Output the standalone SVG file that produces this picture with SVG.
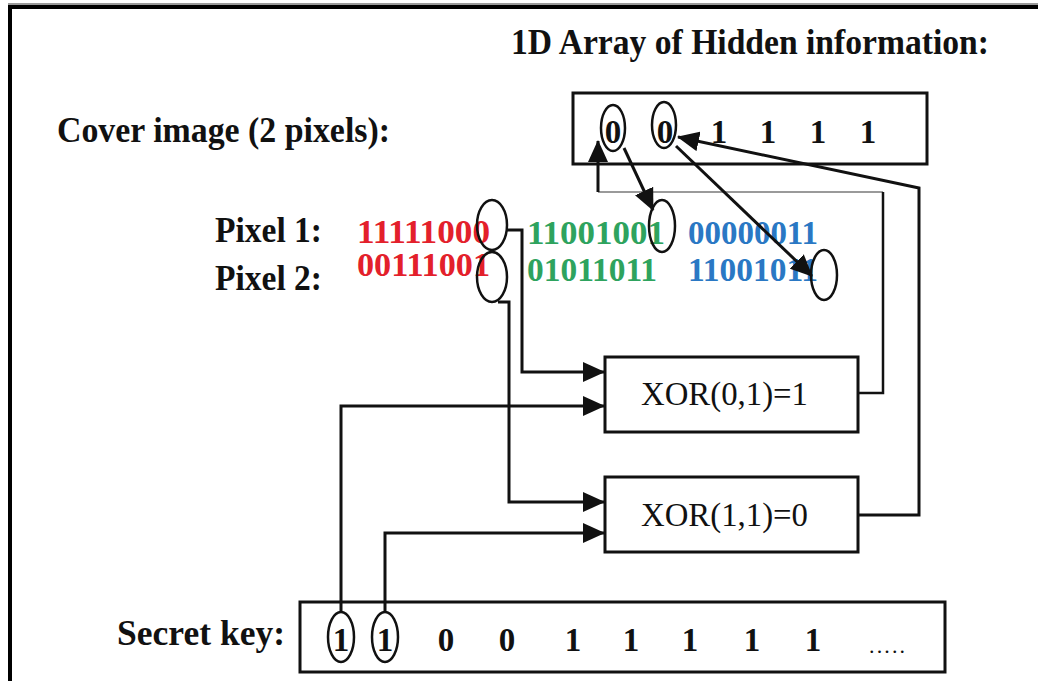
<svg xmlns="http://www.w3.org/2000/svg" width="1038" height="681" viewBox="0 0 1038 681">
  <style>
    .lbl { font-family: "Liberation Serif", "Times New Roman", serif; font-weight: bold; font-size: 36px; fill: #111; }
    .bit { font-family: "Liberation Serif", "Times New Roman", serif; font-weight: bold; font-size: 33px; fill: #111; text-anchor: middle; }
    .row { font-family: "Liberation Serif", "Times New Roman", serif; font-weight: bold; font-size: 33px; }
    .red { fill: #e3202b; }
    .green { fill: #2ea35e; }
    .blue { fill: #2a78c4; }
    .op { font-family: "Liberation Serif", "Times New Roman", serif; font-size: 34px; fill: #111; }
    .box { fill: #fff; stroke: #111; stroke-width: 3; }
    .ring { fill: none; stroke: #111; stroke-width: 2.5; }
    .wire { fill: none; stroke: #111; stroke-width: 3; }
    .thin { fill: none; stroke: #9a9a9a; stroke-width: 2; }
  </style>
  <defs>
    <marker id="arrow" viewBox="0 0 22 20" refX="21" refY="10" markerWidth="22" markerHeight="20" markerUnits="userSpaceOnUse" orient="auto">
      <path d="M0,0 L22,10 L0,20 z" fill="#111"/>
    </marker>
  </defs>

  <rect width="1038" height="681" fill="#fff"/>
  <!-- frame -->
  <path d="M1038,4 H8" stroke="#9a9a9a" stroke-width="2" fill="none"/>
  <path d="M10,681 V7 H1038" stroke="#000" stroke-width="4" fill="none"/>

  <!-- labels -->
  <g id="title">
    <text class="lbl" x="511" y="54" textLength="478" lengthAdjust="spacingAndGlyphs">1D Array of Hidden information:</text>
  </g>
  <g id="cover-label">
    <text class="lbl" x="57" y="142" textLength="333" lengthAdjust="spacingAndGlyphs">Cover image (2 pixels):</text>
  </g>
  <g id="pixel-labels">
    <text class="lbl" x="215" y="242" textLength="107" lengthAdjust="spacingAndGlyphs">Pixel 1:</text>
    <text class="lbl" x="215" y="290" textLength="107" lengthAdjust="spacingAndGlyphs">Pixel 2:</text>
  </g>
  <g id="key-label">
    <text class="lbl" x="117" y="645" textLength="168" lengthAdjust="spacingAndGlyphs">Secret key:</text>
  </g>

  <!-- hidden information array -->
  <g id="hidden-array">
    <rect class="box" x="573" y="93" width="354" height="71"/>
    <text class="bit" x="613" y="143">0</text>
    <text class="bit" x="665" y="143">0</text>
    <text class="bit" x="719" y="143">1</text>
    <text class="bit" x="768" y="143">1</text>
    <text class="bit" x="818" y="143">1</text>
    <text class="bit" x="868" y="143">1</text>
    <ellipse class="ring" cx="613" cy="128" rx="12" ry="23"/>
    <ellipse class="ring" cx="664" cy="125" rx="12" ry="23"/>
  </g>

  <!-- pixel bytes -->
  <g id="pixel1">
    <text class="row red" x="357" y="243" textLength="133" lengthAdjust="spacingAndGlyphs">11111000</text>
    <text class="row green" x="527" y="244" textLength="138" lengthAdjust="spacingAndGlyphs">11001001</text>
    <text class="row blue" x="688" y="244" textLength="130" lengthAdjust="spacingAndGlyphs">00000011</text>
    <ellipse class="ring" cx="492" cy="225" rx="15" ry="25"/>
    <ellipse class="ring" cx="662" cy="226" rx="13" ry="26"/>
  </g>
  <g id="pixel2">
    <text class="row red" x="357" y="276" textLength="133" lengthAdjust="spacingAndGlyphs">00111001</text>
    <text class="row green" x="527" y="281" textLength="130" lengthAdjust="spacingAndGlyphs">01011011</text>
    <text class="row blue" x="688" y="281" textLength="130" lengthAdjust="spacingAndGlyphs">11001011</text>
    <ellipse class="ring" cx="492" cy="277" rx="15" ry="25"/>
    <ellipse class="ring" cx="824" cy="275" rx="13" ry="25"/>
  </g>

  <!-- XOR operations -->
  <g id="xor1">
    <rect class="box" x="605" y="357" width="253" height="75"/>
    <text class="op" x="641" y="405" textLength="167" lengthAdjust="spacingAndGlyphs">XOR(0,1)=1</text>
  </g>
  <g id="xor2">
    <rect class="box" x="605" y="477" width="253" height="75"/>
    <text class="op" x="641" y="526" textLength="167" lengthAdjust="spacingAndGlyphs">XOR(1,1)=0</text>
  </g>

  <!-- secret key -->
  <g id="secret-key">
    <rect class="box" x="300" y="602" width="645" height="70"/>
    <text class="bit" x="341" y="651">1</text>
    <text class="bit" x="385" y="651">1</text>
    <text class="bit" x="446" y="651">0</text>
    <text class="bit" x="507" y="651">0</text>
    <text class="bit" x="573" y="651">1</text>
    <text class="bit" x="631" y="651">1</text>
    <text class="bit" x="690" y="651">1</text>
    <text class="bit" x="752" y="651">1</text>
    <text class="bit" x="813" y="651">1</text>
    <text class="op" x="869" y="653" style="font-size:22px" textLength="36" lengthAdjust="spacing">.....</text>
    <ellipse class="ring" cx="341" cy="637" rx="13" ry="25"/>
    <ellipse class="ring" cx="385" cy="637" rx="13" ry="25"/>
  </g>

  <!-- connectors -->
  <g id="connectors">
    <!-- LSBs of pixel 1 and pixel 2 into the XOR gates -->
    <path class="wire" d="M507,230 H522 V372 H604" marker-end="url(#arrow)"/>
    <path class="wire" d="M498,302 H509 V502 H604" marker-end="url(#arrow)"/>
    <!-- key bits into the XOR gates -->
    <path class="wire" d="M341,612 V406 H604" marker-end="url(#arrow)"/>
    <path class="wire" d="M385,612 V533 H604" marker-end="url(#arrow)"/>
    <!-- XOR results back to the hidden array -->
    <path class="thin" d="M598,192 H883"/>
    <path class="wire" d="M858,393 H883 V192" style="stroke-width:2.5"/>
    <path class="wire" d="M598,192 V141" marker-end="url(#arrow)"/>
    <path class="wire" d="M858,515 H919 V188 L678,137" marker-end="url(#arrow)"/>
    <!-- hidden bits into the chosen pixel bits -->
    <path class="wire" d="M624,148 L653,210" marker-end="url(#arrow)"/>
    <path class="wire" d="M676,146 L812,276" marker-end="url(#arrow)"/>
  </g>
</svg>
